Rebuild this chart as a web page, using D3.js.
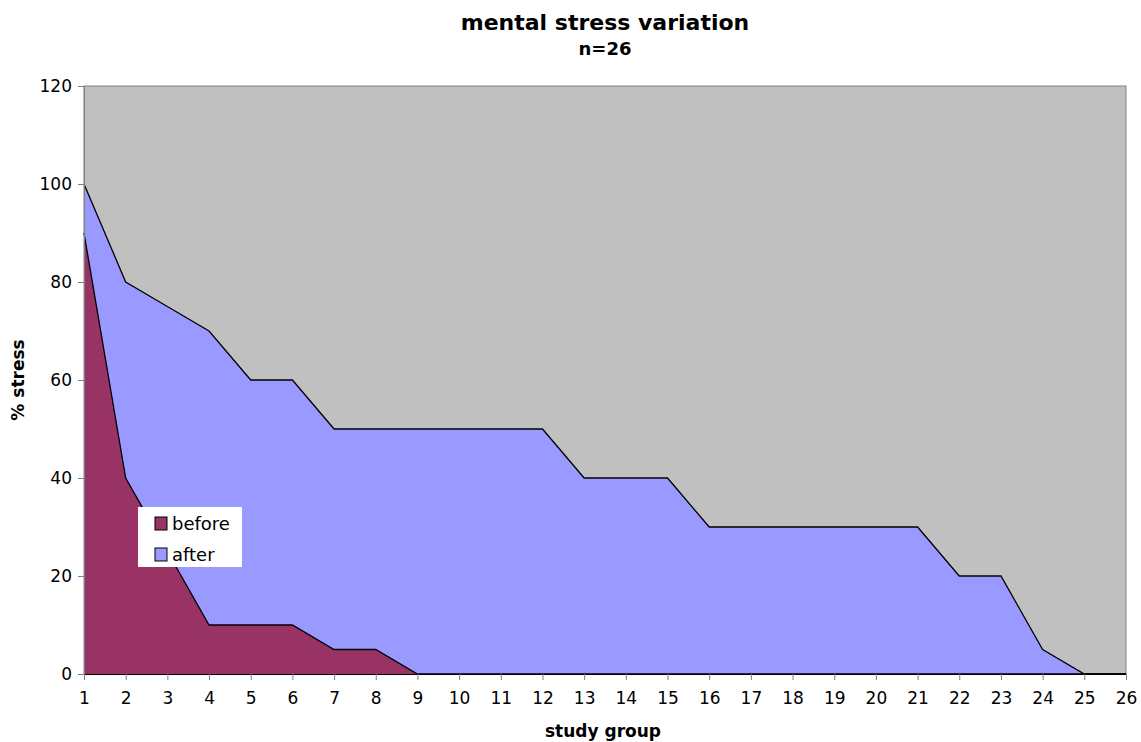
<!DOCTYPE html>
<meta charset="utf-8">
<script src="https://d3js.org/d3.v7.min.js"></script>
<style>
  body { margin: 0; background: #fff; }
  text { font-family: "DejaVu Sans", Verdana, sans-serif; }
</style>
<div id="chart"></div>
<script>
// study groups 1..26
const groups = d3.range(1, 27);
const before = [90, 40, 25, 10, 10, 10, 5, 5, 0, 0, 0, 0, 0, 0, 0, 0, 0, 0, 0, 0, 0, 0, 0, 0, 0, 0];
const after = [100, 80, 75, 70, 60, 60, 50, 50, 50, 50, 50, 50, 40, 40, 40, 30, 30, 30, 30, 30, 30, 20, 20, 5, 0, 0];
const yTicks = [0, 20, 40, 60, 80, 100, 120];

const W = 1141, H = 742;
const margin = {top: 86, right: 15, bottom: 68, left: 84};
const width = W - margin.left - margin.right,
      height = H - margin.top - margin.bottom;

const svg = d3.select("#chart").append("svg")
  .attr("width", W).attr("height", H);

const g = svg.append("g")
  .attr("transform", `translate(${margin.left},${margin.top})`);

const x = d3.scaleLinear().domain([1, 26]).range([0, width]);
const y = d3.scaleLinear().domain([0, 120]).range([height, 0]);

// plot background
g.append("rect")
  .attr("width", width).attr("height", height)
  .attr("fill", "#c0c0c0")
  .attr("stroke", "#808080").attr("stroke-width", 1);

const area = d3.area()
  .x((d, i) => x(groups[i]))
  .y0(y(0))
  .y1(d => y(d));
const line = d3.line()
  .x((d, i) => x(groups[i]))
  .y(d => y(d));

// after behind, before in front
g.append("path").datum(after).attr("d", area).attr("fill", "#9999ff");
g.append("path").datum(after).attr("d", line)
  .attr("fill", "none").attr("stroke", "#000").attr("stroke-width", 1.3);
g.append("path").datum(before).attr("d", area).attr("fill", "#993366");
g.append("path").datum(before).attr("d", line)
  .attr("fill", "none").attr("stroke", "#000").attr("stroke-width", 1.3);

// y axis
const yAxis = g.append("g")
  .call(d3.axisLeft(y).tickValues(yTicks).tickSize(6).tickPadding(6));
yAxis.select(".domain").attr("stroke", "#808080");
yAxis.selectAll(".tick line").attr("stroke", "#808080");
yAxis.selectAll("text").attr("font-size", 17).attr("fill", "#000");

// x axis
const xAxis = g.append("g")
  .attr("transform", `translate(0,${height})`)
  .call(d3.axisBottom(x).tickValues(groups).tickFormat(d3.format("d")).tickSize(6).tickPadding(12));
xAxis.select(".domain").attr("stroke", "#000");
xAxis.selectAll(".tick line").attr("stroke", "#808080");
xAxis.selectAll("text").attr("font-size", 17).attr("fill", "#000");

// titles
svg.append("text").attr("x", 605).attr("y", 30)
  .attr("text-anchor", "middle").attr("font-size", 22).attr("font-weight", "bold")
  .text("mental stress variation");
svg.append("text").attr("x", 605).attr("y", 55)
  .attr("text-anchor", "middle").attr("font-size", 18).attr("font-weight", "bold")
  .text("n=26");
svg.append("text").attr("x", 603).attr("y", 737)
  .attr("text-anchor", "middle").attr("font-size", 17).attr("font-weight", "bold")
  .text("study group");
svg.append("text")
  .attr("transform", "translate(24,380) rotate(-90)")
  .attr("text-anchor", "middle").attr("font-size", 17).attr("font-weight", "bold")
  .text("% stress");

// legend
const legend = svg.append("g").attr("transform", "translate(138,507)");
legend.append("rect").attr("width", 104).attr("height", 60).attr("fill", "#fff");
const series = [{name: "before", color: "#993366"}, {name: "after", color: "#9999ff"}];
series.forEach((s, i) => {
  legend.append("rect")
    .attr("x", 17).attr("y", 10 + i * 31).attr("width", 12).attr("height", 13)
    .attr("fill", s.color).attr("stroke", "#000").attr("stroke-width", 1);
  legend.append("text")
    .attr("x", 34).attr("y", 23 + i * 31)
    .attr("font-size", 18).text(s.name);
});
</script>
